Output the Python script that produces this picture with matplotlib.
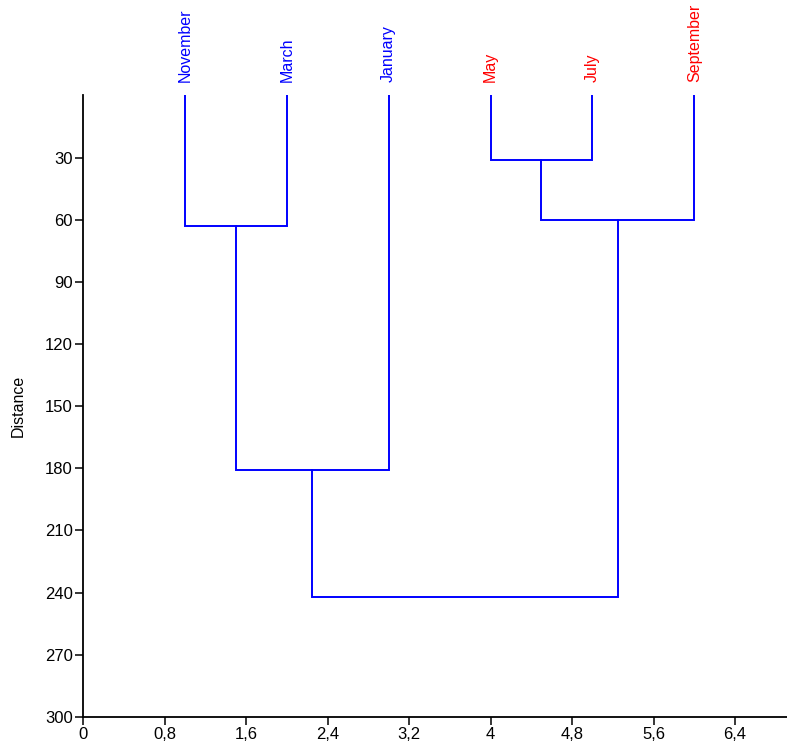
import matplotlib
matplotlib.use('Agg')
import matplotlib.pyplot as plt
from matplotlib.ticker import FuncFormatter

plt.rcParams['font.family'] = ['Liberation Sans', 'DejaVu Sans']

# leaves in drawing order
leaves = ['November', 'March', 'January', 'May', 'July', 'September']
leaf_colors = ['blue', 'blue', 'blue', 'red', 'red', 'red']

# merges: (left node, right node, distance); nodes 0..5 are leaves, 6.. are clusters
merges = [
    (3, 4, 31),
    (0, 1, 63),
    (6, 5, 60),
    (7, 2, 181),
    (9, 8, 242),
]

x_ticks = [0, 0.8, 1.6, 2.4, 3.2, 4, 4.8, 5.6, 6.4]
y_ticks = [30, 60, 90, 120, 150, 180, 210, 240, 270, 300]

fig = plt.figure(figsize=(7.87, 7.46), dpi=100)
ax = fig.add_axes([0.1055, 0.039, 0.8945, 0.833])

# node positions: leaves at x = 1..n, height 0
pos = [(i + 1, 0) for i in range(len(leaves))]
for a, b, h in merges:
    xa, ha = pos[a]
    xb, hb = pos[b]
    ax.plot([xa, xa, xb, xb], [ha, h, h, hb], color='#0000ff', lw=1.4,
            solid_joinstyle='miter')
    pos.append(((xa + xb) / 2, h))

for i, (name, c) in enumerate(zip(leaves, leaf_colors)):
    ax.annotate(name, xy=(i + 1, 0), xytext=(0, 9.5), textcoords='offset points',
                rotation=90, ha='center', va='bottom', color=c, fontsize=11.5,
                annotation_clip=False)

ax.set_xlim(0, 6.91)
ax.set_ylim(300, 0)
ax.set_xticks(x_ticks)
ax.set_yticks(y_ticks)
ax.xaxis.set_major_formatter(FuncFormatter(lambda v, p: f'{v:g}'.replace('.', ',')))
ax.tick_params(direction='out', length=5.5, width=1.1, labelsize=12, color='black',
               pad=2)
ax.set_ylabel('Distance', fontsize=11.5, labelpad=14)

for s in ['top', 'right']:
    ax.spines[s].set_visible(False)
for s in ['left', 'bottom']:
    ax.spines[s].set_linewidth(1.3)

fig.savefig('out.png', dpi=100)
